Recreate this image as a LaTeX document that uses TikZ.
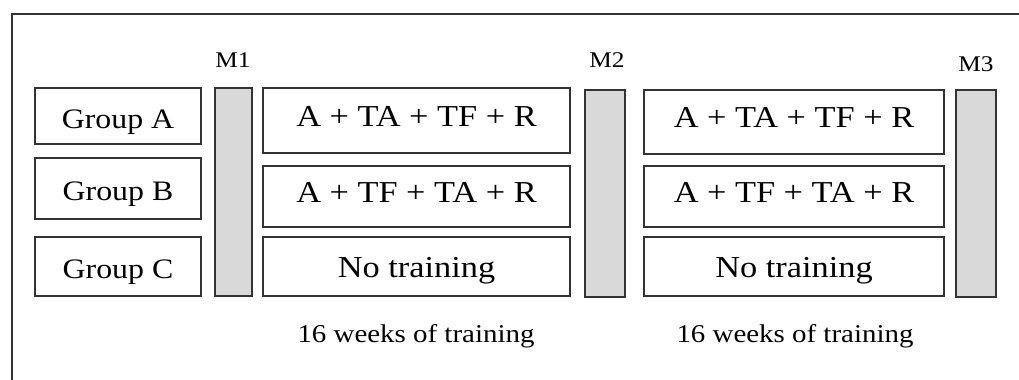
\documentclass[tikz,border=0pt]{standalone}
\usepackage{fontspec}
\setmainfont[FakeStretch=1.13]{Liberation Serif}
\usetikzlibrary{positioning}

\begin{document}
\begin{tikzpicture}[x=0.5pt, y=-0.5pt,
  grp/.style={rectangle, draw=black!80, line width=0.9pt, minimum width=83pt, inner sep=0pt, text height=12pt, text depth=0pt, font=\fontsize{14.1}{16}\selectfont},
  trn/.style={rectangle, draw=black!80, line width=0.9pt, inner sep=0pt, text height=5.8pt, text depth=0pt, font=\fontsize{15.2}{17}\selectfont},
  bar/.style={rectangle, draw=black!80, fill=black!15, line width=0.9pt, inner sep=0pt},
  lbl/.style={inner sep=0pt, anchor=base, font=\fontsize{11.2}{13}\selectfont},
  wks/.style={inner sep=0pt, anchor=base, font=\fontsize{12.8}{15}\selectfont}]
  \useasboundingbox (0,0) rectangle (1019,380);

  % Outer frame (cut off at right and bottom)
  \draw[black!80, line width=0.8pt] (12,380) -- (12,14) -- (1019,14);

  % Groups
  \node[grp, minimum height=28pt] (gA) at (118,116) {Group A};
  \node[grp, minimum height=30.5pt] (gB) at (118,188.5) {Group B};
  \node[grp, minimum height=29.5pt] (gC) at (118,266.5) {Group C};

  % Measurement bars
  \node[bar, minimum width=18.5pt, minimum height=104pt] (m1) at (233.5,192) {};
  \node[bar, minimum width=20pt, minimum height=103.5pt] (m2) at (605,193.5) {};
  \node[bar, minimum width=20pt, minimum height=103.5pt] (m3) at (976,193.5) {};
  \node[lbl] (m1l) at (233,67.7) {M1};
  \node[lbl] (m2l) at (607,68) {M2};
  \node[lbl] (m3l) at (976,71) {M3};

  % First 16 weeks
  \node[trn, minimum width=153.5pt, minimum height=32.5pt] (t1a) at (416.5,120.5) {A + TA + TF + R};
  \node[trn, minimum width=153.5pt, minimum height=30.5pt] (t1b) at (416.5,196.5) {A + TF + TA + R};
  \node[trn, minimum width=153.5pt, minimum height=29.5pt, text height=10.8pt] (t1c) at (416.5,266.5) {No training};

  % Second 16 weeks
  \node[trn, minimum width=150pt, minimum height=32pt] (t2a) at (794,122) {A + TA + TF + R};
  \node[trn, minimum width=150pt, minimum height=30.5pt] (t2b) at (794,196.5) {A + TF + TA + R};
  \node[trn, minimum width=150pt, minimum height=29.5pt, text height=10.8pt] (t2c) at (794,266.5) {No training};

  \node[wks] (w1) at (416,342.7) {16 weeks of training};
  \node[wks] (w2) at (795,342.7) {16 weeks of training};
\end{tikzpicture}
\end{document}
